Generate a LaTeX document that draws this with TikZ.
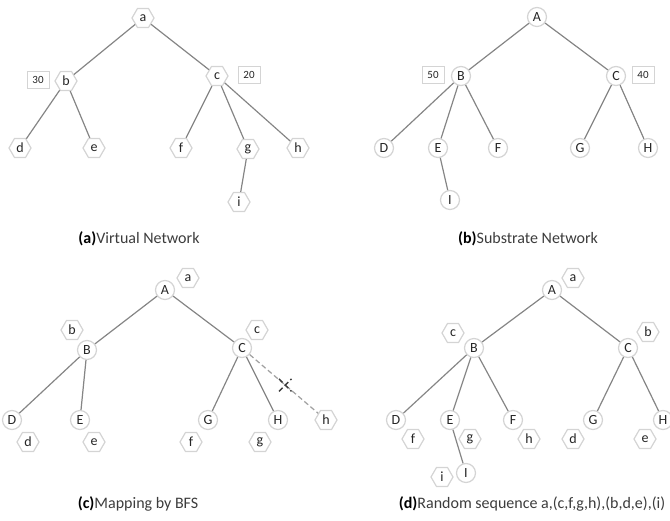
\documentclass[tikz,border=0pt]{standalone}
\usepackage{fontspec}
\setmainfont{Carlito}
\usetikzlibrary{shapes.geometric,shapes.misc}
\definecolor{edgec}{HTML}{858585}
\definecolor{dashc}{HTML}{A0A0A0}
\definecolor{nodeb}{HTML}{D4D4D4}
\definecolor{txt}{HTML}{262626}
\definecolor{captxt}{HTML}{3C3C3C}
\tikzset{
  cnode/.style={circle, draw=nodeb, line width=1.2pt, fill=white, inner sep=0pt,
    minimum size=19pt, font=\fontsize{14}{14}\selectfont, text=txt},
  hnode/.style={regular polygon, regular polygon sides=6, draw=nodeb, line width=1.2pt,
    fill=white, inner sep=0pt, minimum size=22pt, font=\fontsize{14}{14}\selectfont, text=txt},
  wbox/.style={rectangle, draw=nodeb, line width=1pt, fill=white, inner sep=0pt,
    minimum width=22pt, minimum height=17pt, font=\fontsize{11}{11}\selectfont, text=txt},
  lnk/.style={draw=edgec, line width=1.2pt},
  dlnk/.style={draw=dashc, line width=1.2pt, dash pattern=on 5pt off 3pt},
  xmark/.style={cross out, draw=txt!90, line width=1.5pt, minimum size=11pt, inner sep=0pt},
  captext/.style={font=\fontsize{16}{16}\selectfont, text=captxt, inner sep=0pt}
}
\begin{document}
\begin{tikzpicture}[x=1pt,y=-1pt]
\useasboundingbox (0,0) rectangle (670,520);

% ---------- (a) Virtual Network ----------
\node[hnode] (va) at (143,18) {a};
\node[hnode] (vb) at (66,81) {b};
\node[hnode] (vc) at (217,76) {c};
\node[hnode] (vd) at (20,148) {d};
\node[hnode] (ve) at (94,148) {e};
\node[hnode] (vf) at (181,148) {f};
\node[hnode] (vg) at (248,149) {g};
\node[hnode] (vh) at (298,148) {h};
\node[hnode] (vi) at (239,202) {i};
\node[wbox] (v30) at (38,80) {30};
\node[wbox] (v20) at (249,75) {20};
\draw[lnk] (va) -- (vb);
\draw[lnk] (va) -- (vc);
\draw[lnk] (vb) -- (vd);
\draw[lnk] (vb) -- (ve);
\draw[lnk] (vc) -- (vf);
\draw[lnk] (vc) -- (vg);
\draw[lnk] (vc) -- (vh);
\draw[lnk] (vg) -- (vi);
\node[captext] (capa) at (139,239) {\textbf{\textcolor{black}{(a)}}Virtual Network};

% ---------- (b) Substrate Network ----------
\node[cnode] (sA) at (537,17) {A};
\node[cnode] (sB) at (461,76) {B};
\node[cnode] (sC) at (616,76) {C};
\node[cnode] (sD) at (384,148) {D};
\node[cnode] (sE) at (438,148) {E};
\node[cnode] (sF) at (498,148) {F};
\node[cnode] (sG) at (580,148) {G};
\node[cnode] (sH) at (648,148) {H};
\node[cnode] (sI) at (450,200) {I};
\node[wbox] (s50) at (433,75) {50};
\node[wbox] (s40) at (643,75) {40};
\draw[lnk] (sA) -- (sB);
\draw[lnk] (sA) -- (sC);
\draw[lnk] (sB) -- (sD);
\draw[lnk] (sB) -- (sE);
\draw[lnk] (sB) -- (sF);
\draw[lnk] (sE) -- (sI);
\draw[lnk] (sC) -- (sG);
\draw[lnk] (sC) -- (sH);
\node[captext] (capb) at (528,239) {\textbf{\textcolor{black}{(b)}}Substrate Network};

% ---------- (c) Mapping by BFS ----------
\node[cnode] (cA) at (165,290) {A};
\node[hnode] (ca) at (188,278) {a};
\node[hnode] (cb) at (72,330) {b};
\node[cnode] (cB) at (87,350) {B};
\node[hnode] (cc) at (257,330) {c};
\node[cnode] (cC) at (242,348) {C};
\node[cnode] (cD) at (12,420) {D};
\node[hnode] (cd) at (28,442) {d};
\node[cnode] (cE) at (80,420) {E};
\node[hnode] (ce) at (94,442) {e};
\node[cnode] (cG) at (208,420) {G};
\node[hnode] (cf) at (191,442) {f};
\node[cnode] (cH) at (278,420) {H};
\node[hnode] (cg) at (260,442) {g};
\node[hnode] (ch) at (326,420) {h};
\draw[lnk] (cA) -- (cB);
\draw[lnk] (cA) -- (cC);
\draw[lnk] (cB) -- (cD);
\draw[lnk] (cB) -- (cE);
\draw[lnk] (cC) -- (cG);
\draw[lnk] (cC) -- (cH);
\draw[dlnk] (cC) -- node[xmark, pos=0.52] (cx) {} (ch);
\node[captext] (capc) at (138,504) {\textbf{\textcolor{black}{(c)}}Mapping by BFS};

% ---------- (d) Random sequence ----------
\node[cnode] (dA) at (552,290) {A};
\node[hnode] (da) at (573,278) {a};
\node[hnode] (dc) at (453,333) {c};
\node[cnode] (dB) at (474,348) {B};
\node[hnode] (db) at (648,332) {b};
\node[cnode] (dC) at (628,348) {C};
\node[cnode] (dD) at (396,420) {D};
\node[hnode] (df) at (413,439) {f};
\node[cnode] (dE) at (450,420) {E};
\node[hnode] (dg) at (470,439) {g};
\node[cnode] (dI) at (466,473) {I};
\node[hnode] (di) at (442,477) {i};
\node[cnode] (dF) at (513,420) {F};
\node[hnode] (dh) at (529,439) {h};
\node[hnode] (dd) at (573,439) {d};
\node[cnode] (dG) at (593,420) {G};
\node[hnode] (de) at (645,439) {e};
\node[cnode] (dH) at (663,420) {H};
\draw[lnk] (dA) -- (dB);
\draw[lnk] (dA) -- (dC);
\draw[lnk] (dB) -- (dD);
\draw[lnk] (dB) -- (dE);
\draw[lnk] (dB) -- (dF);
\draw[lnk] (dE) -- (dI);
\draw[lnk] (dC) -- (dG);
\draw[lnk] (dC) -- (dH);
\node[captext] (capd) at (532,504) {\textbf{\textcolor{black}{(d)}}Random sequence a,(c,f,g,h),(b,d,e),(i)};
\end{tikzpicture}
\end{document}
